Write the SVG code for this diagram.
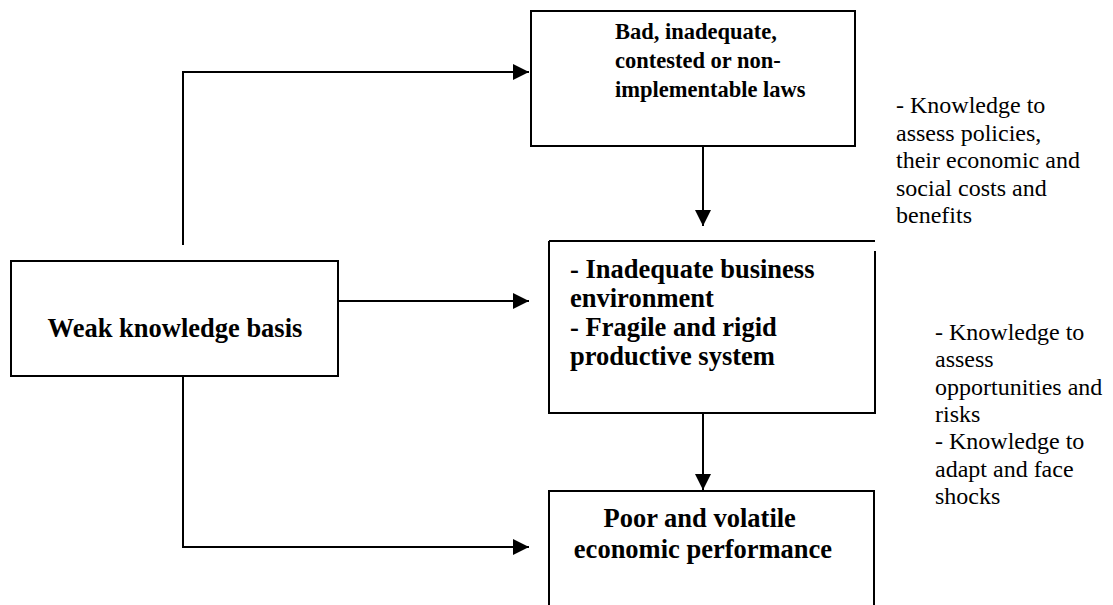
<svg xmlns="http://www.w3.org/2000/svg" width="1113" height="605" viewBox="0 0 1113 605">
  <style>
    .box { fill: #fff; stroke: #000; stroke-width: 2; }
    .edge { fill: none; stroke: #000; stroke-width: 2; }
    .bold { font-family: "Liberation Serif", "Times New Roman", serif; font-weight: bold; fill: #000; }
    .note { font-family: "Liberation Serif", "Times New Roman", serif; font-size: 24px; fill: #000; }
  </style>
  <defs>
    <marker id="arrow" markerUnits="userSpaceOnUse" markerWidth="17" markerHeight="17" refX="16" refY="8" orient="auto">
      <path d="M0,0 L16,8 L0,16 Z" fill="#000"/>
    </marker>
  </defs>

  <rect width="1113" height="605" fill="#fff"/>

  <!-- connectors -->
  <g id="connectors">
    <polyline class="edge" points="183,245 183,72 529,72" marker-end="url(#arrow)"/>
    <line class="edge" x1="703" y1="146" x2="703" y2="226" marker-end="url(#arrow)"/>
    <line class="edge" x1="338" y1="301" x2="529" y2="301" marker-end="url(#arrow)"/>
    <polyline class="edge" points="183,376 183,547 529,547" marker-end="url(#arrow)"/>
    <line class="edge" x1="703" y1="413" x2="703" y2="490" marker-end="url(#arrow)"/>
  </g>

  <!-- weak knowledge basis -->
  <g id="node-knowledge">
    <rect class="box" x="11" y="261" width="327" height="115"/>
    <text class="bold" font-size="26.5" x="175" y="337" text-anchor="middle">Weak knowledge basis</text>
  </g>

  <!-- laws -->
  <g id="node-laws">
    <rect class="box" x="531" y="11" width="324" height="135"/>
    <text class="bold" font-size="22.5">
      <tspan x="615" y="39">Bad, inadequate,</tspan>
      <tspan x="615" y="68">contested or non-</tspan>
      <tspan x="615" y="97">implementable laws</tspan>
    </text>
  </g>

  <!-- business environment -->
  <g id="node-environment">
    <path class="edge" d="M549,241 H875"/>
    <path class="edge" d="M875,251 V413 H549 V241"/>
    <text class="bold" font-size="26.5">
      <tspan x="570" y="278">- Inadequate business</tspan>
      <tspan x="570" y="307">environment</tspan>
      <tspan x="570" y="336">- Fragile and rigid</tspan>
      <tspan x="570" y="365">productive system</tspan>
    </text>
  </g>

  <!-- economic performance -->
  <g id="node-performance">
    <rect class="box" x="549" y="491" width="325" height="130"/>
    <text class="bold" font-size="26.5" text-anchor="middle">
      <tspan x="703" y="527">Poor and volatile</tspan>
      <tspan x="703" y="558">economic performance</tspan>
    </text>
  </g>

  <!-- knowledge notes -->
  <g id="note-policies">
    <text class="note">
      <tspan x="896" y="113">- Knowledge to</tspan>
      <tspan x="896" y="140.5">assess policies,</tspan>
      <tspan x="896" y="168">their economic and</tspan>
      <tspan x="896" y="195.5">social costs and</tspan>
      <tspan x="896" y="223">benefits</tspan>
    </text>
  </g>
  <g id="note-risks">
    <text class="note">
      <tspan x="935" y="340">- Knowledge to</tspan>
      <tspan x="935" y="367.3">assess</tspan>
      <tspan x="935" y="394.7">opportunities and</tspan>
      <tspan x="935" y="422">risks</tspan>
      <tspan x="935" y="449.3">- Knowledge to</tspan>
      <tspan x="935" y="476.7">adapt and face</tspan>
      <tspan x="935" y="504">shocks</tspan>
    </text>
  </g>
</svg>
